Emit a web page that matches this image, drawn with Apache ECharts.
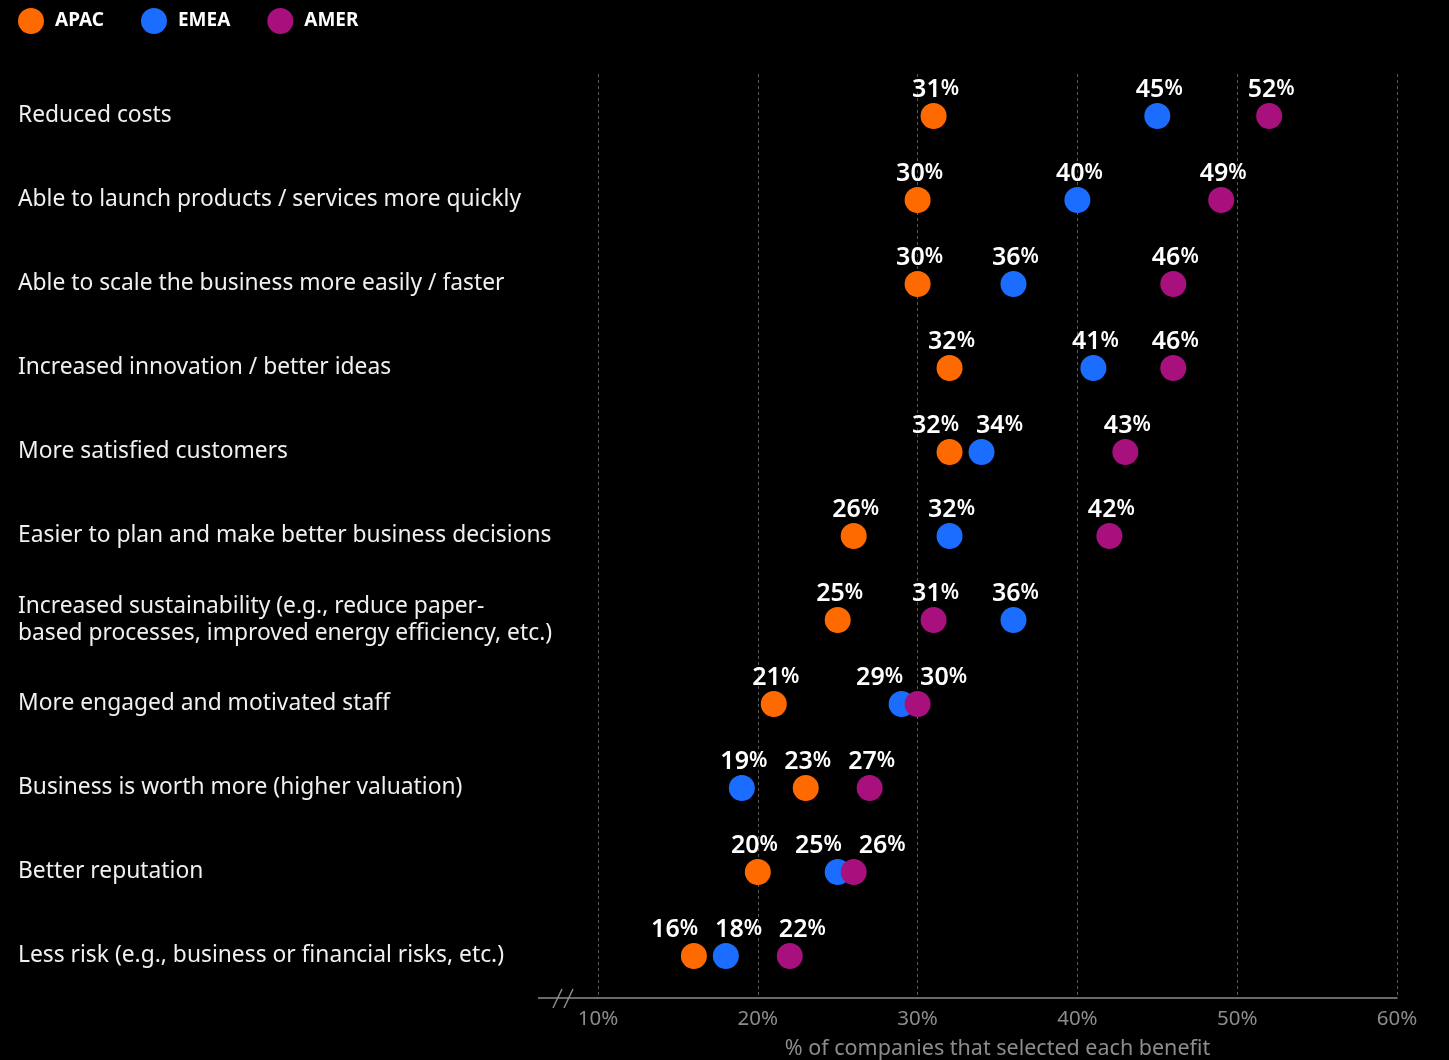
<!DOCTYPE html>
<html>
<head>
<meta charset="utf-8">
<script src="https://cdn.jsdelivr.net/npm/echarts@6/dist/echarts.min.js"></script>
<style>
html,body{margin:0;padding:0;background:#000;}
#chart{width:1449px;height:1060px;}
</style>
</head>
<body>
<div id="chart"></div>
<script>
const categories = [
  'Reduced costs',
  'Able to launch products / services more quickly',
  'Able to scale the business more easily / faster',
  'Increased innovation / better ideas',
  'More satisfied customers',
  'Easier to plan and make better business decisions',
  'Increased sustainability (e.g., reduce paper-\nbased processes, improved energy efficiency, etc.)',
  'More engaged and motivated staff',
  'Business is worth more (higher valuation)',
  'Better reputation',
  'Less risk (e.g., business or financial risks, etc.)'
];
const apac = [31, 30, 30, 32, 32, 26, 25, 21, 23, 20, 16];
const emea = [45, 40, 36, 41, 34, 32, 36, 29, 19, 25, 18];
const amer = [52, 49, 46, 46, 43, 42, 31, 30, 27, 26, 22];
const seriesNames = ['APAC', 'EMEA', 'AMER'];
const xTicks = [10, 20, 30, 40, 50, 60];
const axisTitle = '% of companies that selected each benefit';

const colors = ['#ff6a00', '#1a6dff', '#a8107d'];
const FONT = '"Noto Sans", sans-serif';
const GRID_LEFT = 598, GRID_RIGHT = 52, GRID_TOP = 74, GRID_BOTTOM = 62;
const AXIS_Y = 1060 - GRID_BOTTOM;
const pxPerUnit = (1449 - GRID_LEFT - GRID_RIGHT) / (xTicks[xTicks.length-1] - xTicks[0]);
const MIN_GAP = 64;

// compute label nudges so that labels in a row don't overlap
const all = [apac, emea, amer];
const nudges = all.map(() => categories.map(() => 0));
categories.forEach((c, r) => {
  const pts = all.map((arr, s) => ({s, x: arr[r] * pxPerUnit, lx: arr[r] * pxPerUnit}))
                 .sort((a, b) => a.x - b.x);
  for (let it = 0; it < 20; it++) {
    let moved = false;
    for (let i = 0; i < pts.length - 1; i++) {
      const gap = pts[i+1].lx - pts[i].lx;
      if (gap < MIN_GAP - 0.5) {
        const d = (MIN_GAP - gap) / 2;
        pts[i].lx -= d; pts[i+1].lx += d; moved = true;
      }
    }
    if (!moved) break;
  }
  pts.forEach(p => { nudges[p.s][r] = p.lx - p.x; });
});

function mkSeries(name, arr, si) {
  return {
    name, type: 'scatter', symbol: 'circle', symbolSize: 26,
    itemStyle: {color: colors[si], opacity: 1},
    data: arr.map((v, r) => ({
      value: [v, r],
      label: {offset: [nudges[si][r] + 2, 0]}
    })),
    label: {
      show: true, position: 'top', distance: 0,
      formatter: p => '{n|' + p.value[0] + '}{p|%}',
      rich: {
        n: {fontFamily: FONT, fontSize: 25, fontWeight: 600, color: '#ffffff', lineHeight: 27},
        p: {fontFamily: FONT, fontSize: 21, fontWeight: 600, color: '#ffffff', lineHeight: 27}
      }
    },
    emphasis: {disabled: true},
    z: 3 + si
  };
}

const chart = echarts.init(document.getElementById('chart'));
chart.setOption({
  backgroundColor: '#000000',
  animation: false,
  textStyle: {fontFamily: FONT},
  legend: {
    left: 13, top: 3, icon: 'circle', itemWidth: 26, itemHeight: 26, itemGap: 37,
    textStyle: {color: '#ffffff', fontSize: 19, fontWeight: 'bold', fontFamily: FONT, padding: [0,0,0,6]},
    data: seriesNames
  },
  grid: {left: GRID_LEFT, right: GRID_RIGHT, top: GRID_TOP, bottom: GRID_BOTTOM, containLabel: false, outerBoundsMode: 'none'},
  xAxis: {
    type: 'value', min: xTicks[0], max: xTicks[xTicks.length-1], interval: 10,
    axisLine: {show: true, lineStyle: {color: '#8c8c8c', width: 1.5}},
    axisTick: {show: false},
    axisLabel: {color: '#8c8c8c', fontSize: 20.5, fontFamily: FONT, margin: 11, formatter: v => v + '%'},
    splitLine: {show: true, lineStyle: {color: '#5a5a5a', type: [3, 3], width: 1}},
    name: axisTitle, nameLocation: 'middle', nameGap: 40,
    nameTextStyle: {color: '#8c8c8c', fontSize: 21.5, fontFamily: FONT}
  },
  yAxis: {
    type: 'category', data: categories, inverse: true,
    axisLine: {show: false}, axisTick: {show: false}, splitLine: {show: false},
    axisLabel: {align: 'left', margin: GRID_LEFT - 18, color: '#f0f0f0', fontSize: 22.8, lineHeight: 27, fontFamily: FONT}
  },
  graphic: [
    {type: 'line', shape: {x1: 538, y1: AXIS_Y, x2: GRID_LEFT, y2: AXIS_Y}, style: {stroke: '#8c8c8c', lineWidth: 1.5}, z: 10},
    {type: 'line', shape: {x1: 553, y1: AXIS_Y + 10, x2: 562, y2: AXIS_Y - 9}, style: {stroke: '#8c8c8c', lineWidth: 1.5}, z: 10},
    {type: 'line', shape: {x1: 564, y1: AXIS_Y + 10, x2: 573, y2: AXIS_Y - 9}, style: {stroke: '#8c8c8c', lineWidth: 1.5}, z: 10}
  ],
  series: [mkSeries('APAC', apac, 0), mkSeries('EMEA', emea, 1), mkSeries('AMER', amer, 2)]
});
</script>
</body>
</html>
